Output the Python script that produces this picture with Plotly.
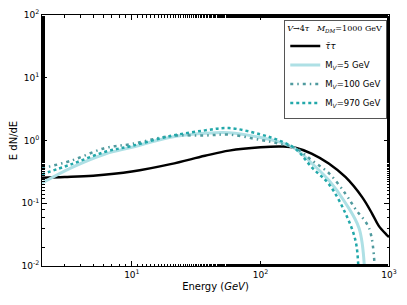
import plotly.graph_objects as go
import numpy as np

# Black: tau-bar tau
E_tt = [2, 3, 5, 10, 20, 37, 57, 100, 150, 190, 250, 340, 460, 620, 740, 830, 950, 1000]
y_tt = [0.255, 0.262, 0.275, 0.32, 0.42, 0.57, 0.69, 0.78, 0.80, 0.76, 0.62, 0.43, 0.26, 0.124, 0.068, 0.044, 0.032, 0.029]

# M_V = 5 GeV
E_m5 = [2, 3.4, 6.2, 10, 20, 37, 57, 100, 140, 187, 252, 342, 460, 585, 645]
y_m5 = [0.21, 0.37, 0.61, 0.78, 1.13, 1.30, 1.33, 1.12, 0.95, 0.74, 0.43, 0.23, 0.10, 0.04, 0.009]

# M_V = 100 GeV
E_m100 = [2, 3.4, 6.2, 10, 20, 37, 57, 100, 140, 187, 252, 342, 460, 550, 700, 775]
y_m100 = [0.36, 0.48, 0.76, 0.88, 1.18, 1.20, 1.24, 1.02, 0.89, 0.76, 0.48, 0.30, 0.14, 0.08, 0.04, 0.009]

# M_V = 970 GeV
E_m970 = [2, 3.4, 6.2, 10, 20, 37, 57, 100, 140, 187, 252, 342, 460, 550, 578]
y_m970 = [0.29, 0.42, 0.66, 0.82, 1.18, 1.45, 1.58, 1.25, 1.00, 0.74, 0.37, 0.20, 0.068, 0.025, 0.009]

fig = go.Figure()
fig.add_trace(go.Scatter(x=E_tt, y=y_tt, mode="lines", name="<i>τ̄τ</i>",
                         line=dict(color="black", width=2.5, shape="spline")))
fig.add_trace(go.Scatter(x=E_m5, y=y_m5, mode="lines", name="M<sub><i>V</i></sub>=5 GeV",
                         line=dict(color="#aee0e5", width=3, shape="spline")))
fig.add_trace(go.Scatter(x=E_m100, y=y_m100, mode="lines", name="M<sub><i>V</i></sub>=100 GeV",
                         line=dict(color="#4f9a9e", width=2.5, dash="3px,4px,1.5px,4px", shape="spline")))
fig.add_trace(go.Scatter(x=E_m970, y=y_m970, mode="lines", name="M<sub><i>V</i></sub>=970 GeV",
                         line=dict(color="#22a8aa", width=2.5, dash="dot", shape="spline")))

tickfont = dict(family="DejaVu Sans", size=9, color="black")
axis_common = dict(type="log", showline=True, linecolor="black", linewidth=1, mirror="ticks",
                   ticks="inside", ticklen=5, tickcolor="black", showgrid=False, zeroline=False,
                   tickfont=tickfont, automargin=False,
                   minor=dict(ticks="inside", ticklen=2.5, tickcolor="black", showgrid=False))

fig.update_layout(
    width=407, height=305,
    margin=dict(l=34, r=26, t=7, b=47),
    paper_bgcolor="white", plot_bgcolor="white",
    font=dict(family="DejaVu Sans", size=10, color="black"),
    xaxis=dict(axis_common, range=[np.log10(2), 3],
               tickvals=[10, 100, 1000], ticktext=["10<sup>1</sup>", "10<sup>2</sup>", "10<sup>3</sup>"],
               title=dict(text="Energy (<i>GeV</i>)", font=dict(size=10), standoff=4)),
    yaxis=dict(axis_common, range=[-2, 2],
               tickvals=[0.01, 0.1, 1, 10, 100],
               ticktext=["10<sup>-2</sup>", "10<sup>-1</sup>", "10<sup>0</sup>", "10<sup>1</sup>", "10<sup>2</sup>"],
               title=dict(text="E dN/dE", font=dict(size=10), standoff=4)),
    showlegend=True,
    legend=dict(x=0.995, y=0.98, xanchor="right", yanchor="top",
                bgcolor="white", bordercolor="#555555", borderwidth=1,
                font=dict(size=8.5), itemwidth=30, tracegroupgap=0,
                title=dict(text="<i>V</i>→4<i>τ</i>   <i>M</i><sub><i>DM</i></sub>=1000 GeV",
                           font=dict(size=8, family="DejaVu Serif"))),
)

fig.write_html("out.html")
